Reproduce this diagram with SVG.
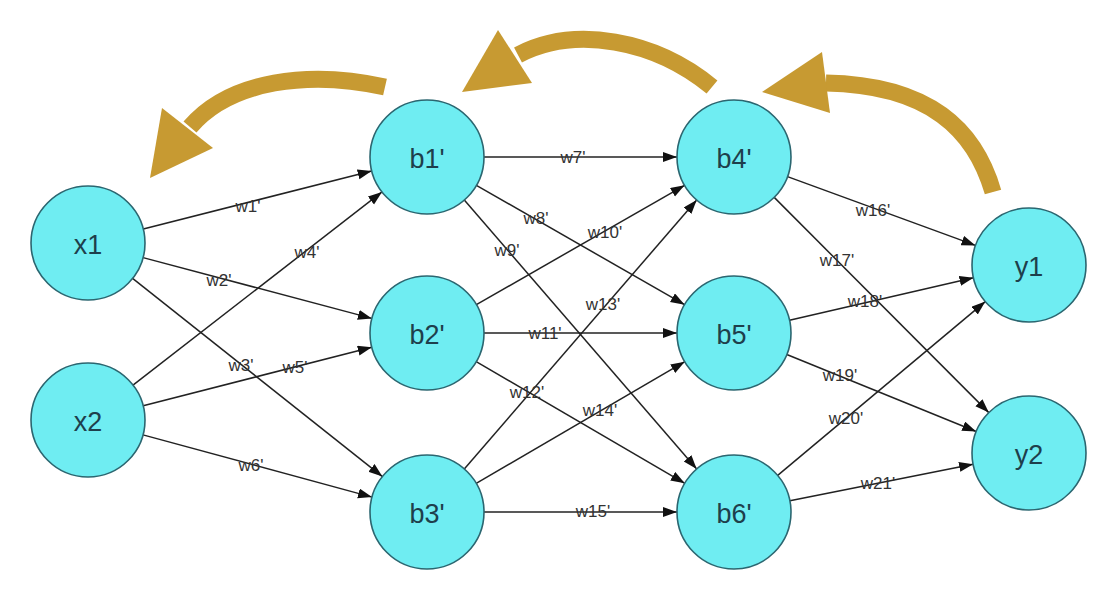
<svg xmlns="http://www.w3.org/2000/svg" width="1118" height="600" viewBox="0 0 1118 600">
<style>
.node circle{fill:#6FEDF2;stroke:#2B6670;stroke-width:1.6}
.node text{font-family:"Liberation Sans",Arial,sans-serif;font-size:27px;fill:#1E3F4C;text-anchor:middle;dominant-baseline:central}
.edges line{stroke:#222;stroke-width:1.5;marker-end:url(#ah)}
.lbl{font-family:"Liberation Sans",Arial,sans-serif;font-size:17px;fill:#333;text-anchor:middle;dominant-baseline:central}
.gold{fill:none;stroke:#C79A32;stroke-width:17}
.goldhead{fill:#C79A32}
</style>
<defs>
<marker id="ah" markerUnits="userSpaceOnUse" markerWidth="15" markerHeight="11" refX="14" refY="5" orient="auto">
<path d="M0,0 L14,5 L0,10 z" fill="#111"/>
</marker>
</defs>
<rect width="1118" height="600" fill="#fff"/>
<g id="backprop-arrows">
<path class="gold" d="M385,87 C310,70 230,80 190,127"/>
<polygon class="goldhead" points="150,178 162,108 213,148"/>
<path class="gold" d="M712,87 C655,40 575,25 518,55"/>
<polygon class="goldhead" points="462,92 498,30 532,83"/>
<path class="gold" d="M993,192 C975,130 930,85 826,83"/>
<polygon class="goldhead" points="762,92 822,52 830,113"/>
</g>
<g class="edges" id="connectors">
<line x1="143.3" y1="229.0" x2="371.7" y2="171.0"/>
<line x1="143.1" y1="257.6" x2="371.9" y2="318.4"/>
<line x1="132.6" y1="278.4" x2="382.4" y2="476.6"/>
<line x1="133.0" y1="385.1" x2="382.0" y2="191.9"/>
<line x1="143.2" y1="405.8" x2="371.8" y2="347.2"/>
<line x1="143.0" y1="434.9" x2="372.0" y2="497.1"/>
<line x1="484" y1="157" x2="677" y2="157"/>
<line x1="476.4" y1="185.3" x2="684.6" y2="304.7"/>
<line x1="464.3" y1="200.1" x2="696.7" y2="468.9"/>
<line x1="476.4" y1="304.7" x2="684.6" y2="185.3"/>
<line x1="484" y1="333" x2="677" y2="333"/>
<line x1="476.2" y1="361.7" x2="684.8" y2="483.3"/>
<line x1="464.3" y1="468.9" x2="696.7" y2="200.1"/>
<line x1="476.2" y1="483.3" x2="684.8" y2="361.7"/>
<line x1="484" y1="512" x2="677" y2="512"/>
<line x1="787.5" y1="176.6" x2="975.5" y2="245.4"/>
<line x1="774.2" y1="197.4" x2="988.8" y2="412.6"/>
<line x1="789.5" y1="320.2" x2="973.5" y2="277.8"/>
<line x1="786.8" y1="354.5" x2="976.2" y2="431.5"/>
<line x1="777.7" y1="475.4" x2="985.3" y2="301.6"/>
<line x1="789.9" y1="500.8" x2="973.1" y2="464.2"/>
<text class="lbl" x="248" y="206">w1'</text>
<text class="lbl" x="219" y="280">w2'</text>
<text class="lbl" x="241" y="365">w3'</text>
<text class="lbl" x="307" y="252">w4'</text>
<text class="lbl" x="295" y="367">w5'</text>
<text class="lbl" x="251" y="465">w6'</text>
<text class="lbl" x="573" y="157">w7'</text>
<text class="lbl" x="536" y="218">w8'</text>
<text class="lbl" x="507" y="250">w9'</text>
<text class="lbl" x="605" y="232">w10'</text>
<text class="lbl" x="545" y="333">w11'</text>
<text class="lbl" x="527" y="392">w12'</text>
<text class="lbl" x="603" y="304">w13'</text>
<text class="lbl" x="600" y="410">w14'</text>
<text class="lbl" x="593" y="511">w15'</text>
<text class="lbl" x="873" y="210">w16'</text>
<text class="lbl" x="837" y="260">w17'</text>
<text class="lbl" x="865" y="301">w18'</text>
<text class="lbl" x="840" y="375">w19'</text>
<text class="lbl" x="846" y="418">w20'</text>
<text class="lbl" x="878" y="483">w21'</text>
</g>
<g class="node" id="x1"><circle cx="88" cy="243" r="57"/><text x="88" y="245">x1</text></g>
<g class="node" id="x2"><circle cx="88" cy="420" r="57"/><text x="88" y="422">x2</text></g>
<g class="node" id="b1"><circle cx="427" cy="157" r="57"/><text x="427" y="159">b1'</text></g>
<g class="node" id="b2"><circle cx="427" cy="333" r="57"/><text x="427" y="335">b2'</text></g>
<g class="node" id="b3"><circle cx="427" cy="512" r="57"/><text x="427" y="514">b3'</text></g>
<g class="node" id="b4"><circle cx="734" cy="157" r="57"/><text x="734" y="159">b4'</text></g>
<g class="node" id="b5"><circle cx="734" cy="333" r="57"/><text x="734" y="335">b5'</text></g>
<g class="node" id="b6"><circle cx="734" cy="512" r="57"/><text x="734" y="514">b6'</text></g>
<g class="node" id="y1"><circle cx="1029" cy="265" r="57"/><text x="1029" y="267">y1</text></g>
<g class="node" id="y2"><circle cx="1029" cy="453" r="57"/><text x="1029" y="455">y2</text></g>
</svg>
